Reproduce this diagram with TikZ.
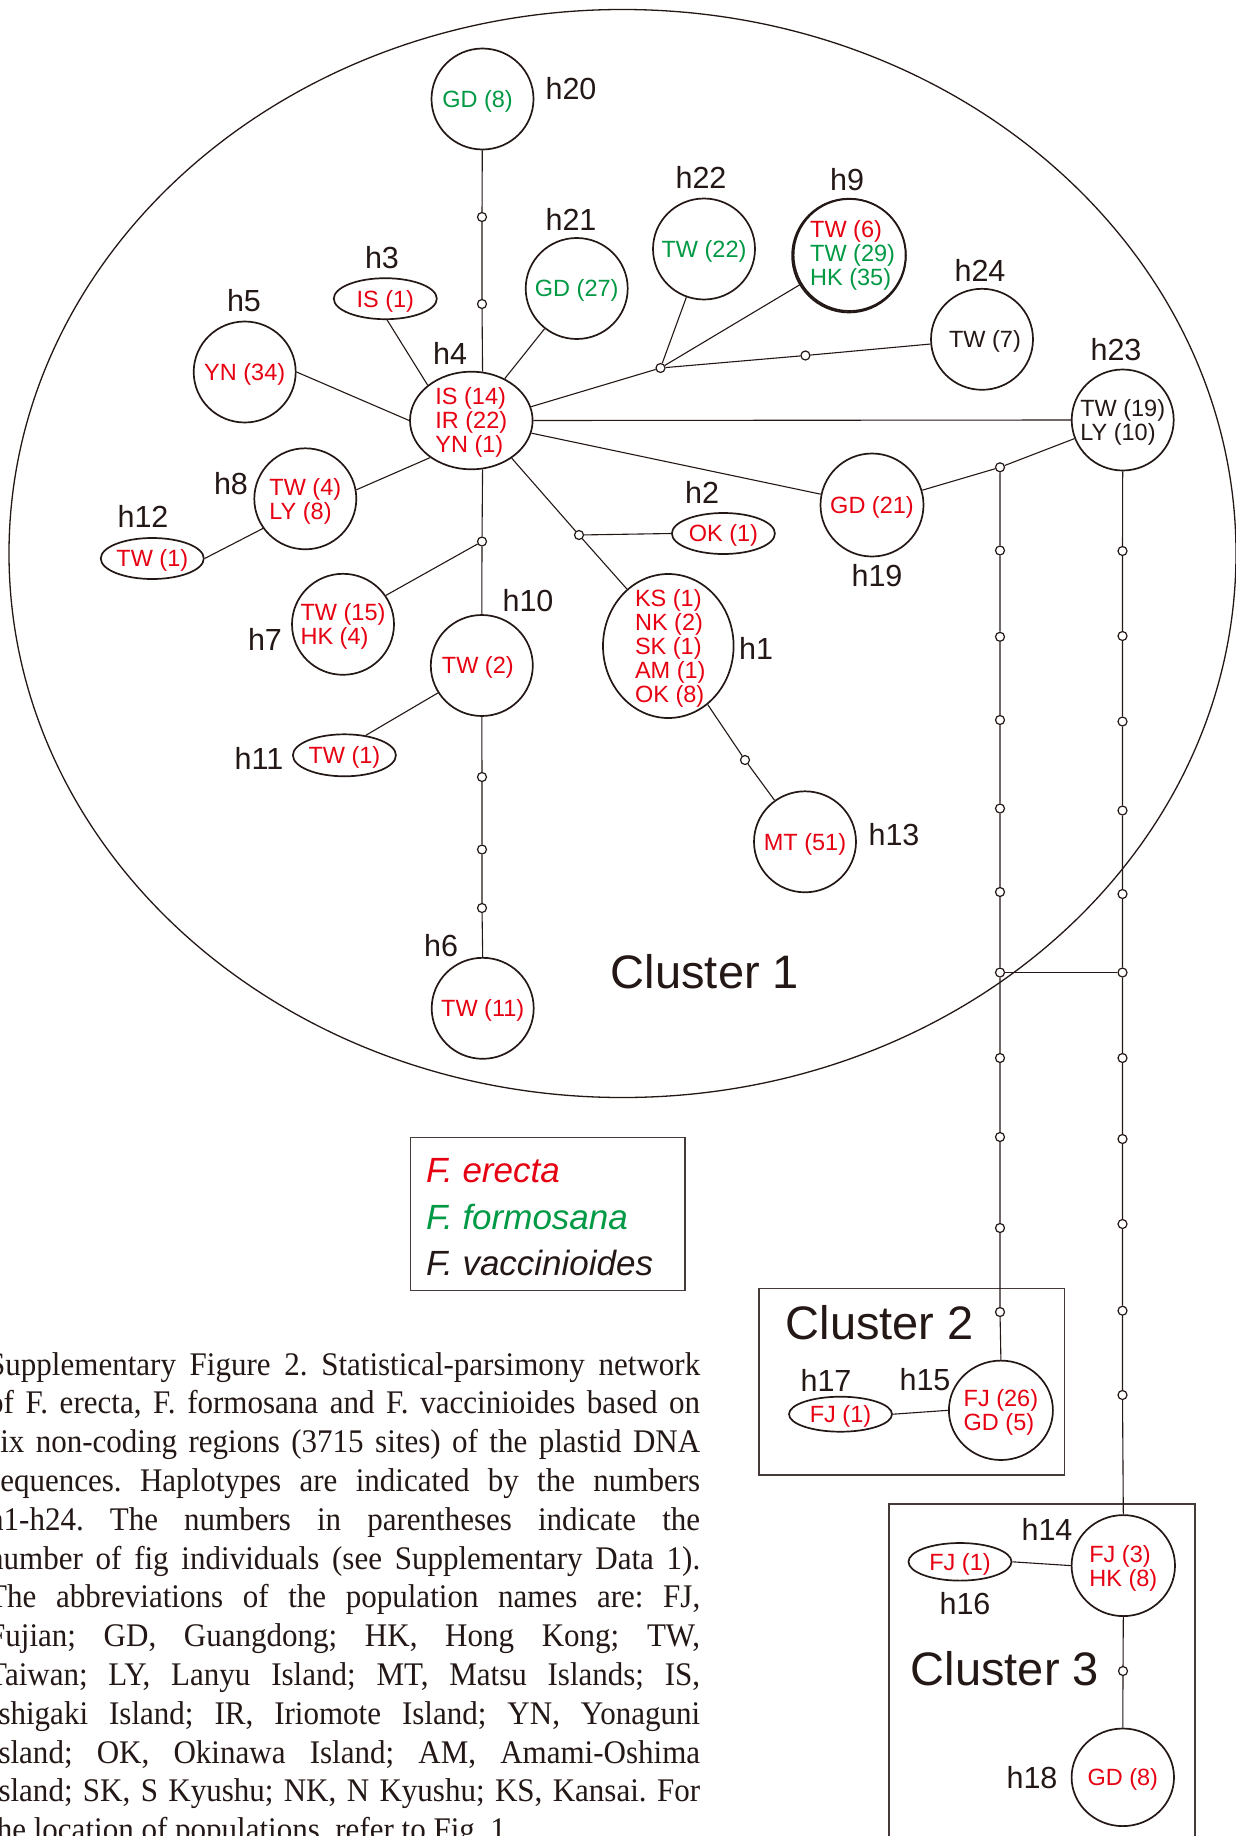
\documentclass[tikz,border=0pt]{standalone}
\usepackage{fontspec}
\setmainfont{Liberation Serif}
\newfontfamily\arialf{Liberation Sans}
\newfontfamily\capf[FakeStretch=0.94]{Liberation Serif}
\usetikzlibrary{shapes.geometric}
\definecolor{ink}{HTML}{231815}
\definecolor{fr}{HTML}{E60012}
\definecolor{fg}{HTML}{009944}
\newcommand{\cRed}{\color{fr}}
\newcommand{\cGrn}{\color{fg}}
\newcommand{\cBlk}{\color{ink}}
\begin{document}
\begin{tikzpicture}[x=1pt,y=-1pt,
  hap/.style={ellipse, draw=ink, line width=1.7pt, fill=white, inner sep=0pt, minimum width=102pt, minimum height=101pt},
  flat/.style={hap, minimum width=103pt, minimum height=41pt},
  txt/.style={font=\arialf\fontsize{23.5}{24}\selectfont, align=left, inner sep=0pt, yshift=-2.3pt},
  lab/.style={font=\arialf\fontsize{30.5}{31}\selectfont, text=ink, inner sep=0pt},
  clus/.style={font=\arialf\fontsize{47}{47}\selectfont, text=ink, inner sep=0pt},
  legt/.style={font=\arialf\itshape\fontsize{35}{35}\selectfont, inner sep=0pt, anchor=base west},
  mut/.style={circle, draw=ink, fill=white, line width=1.2pt, minimum size=9pt, inner sep=0pt},
  link/.style={draw=ink, line width=1.1pt},
  frame/.style={draw=ink!85, line width=1.5pt}]
\useasboundingbox (0,0) rectangle (1236,1836);
\fill[white] (0,0) rectangle (1236,1836);
\clip (0,0) rectangle (1236,1836);

% cluster 1 outline
\draw[ink, line width=1.3pt] (622.5,553.5) ellipse [x radius=613.5, y radius=544];

% boxes
\node[frame, minimum width=305.6pt, minimum height=186.3pt, inner sep=0pt] (box2) at (911.6,1381.85) {};
\node[frame, minimum width=306pt, minimum height=360pt, inner sep=0pt, anchor=north west] (box3) at (888.3,1503.4) {};
\node[frame, minimum width=274.3pt, minimum height=153.4pt, inner sep=0pt] (leg) at (547.85,1214) {};

% haplotype shapes
\node[hap] (h20) at (482.5,99) {};
\node[flat] (h3) at (385.3,298.7) {};
\node[hap] (h21) at (576.7,288.5) {};
\node[hap] (h22) at (704,249) {};
\draw[ink, line width=1.9pt] (849.0,255.6) circle [radius=56.8];
\node[hap, minimum width=112pt, minimum height=112pt] (h9) at (849.6,255) {};
\node[hap] (h24) at (982,339.3) {};
\node[hap] (h23) at (1122.7,420) {};
\node[hap] (h5) at (244.7,372) {};
\node[hap, minimum width=122.6pt, minimum height=97.6pt] (h4) at (471.3,420.5) {};
\node[hap] (h8) at (305.3,498.8) {};
\node[flat] (h12) at (152.3,558.5) {};
\node[hap] (h7) at (343,624.3) {};
\node[hap] (h10) at (481.8,665.5) {};
\node[flat, minimum height=42pt] (h11) at (344.4,755.3) {};
\node[hap] (h6) at (482.7,1008.3) {};
\node[flat] (h2) at (723.4,533.5) {};
\node[hap, minimum width=130.6pt, minimum height=144pt] (h1) at (668.3,646) {};
\node[hap] (h13) at (805,841.8) {};
\node[hap, minimum width=103pt, minimum height=103pt] (h19) at (872,505) {};
\node[hap, minimum width=104pt, minimum height=99.4pt] (h15) at (1000.9,1410.3) {};
\node[flat, minimum height=35pt] (h17) at (840.5,1414.2) {};
\node[hap, minimum width=103.4pt, minimum height=101pt] (h14) at (1123.3,1565.6) {};
\node[flat, minimum height=37.6pt] (h16) at (960,1561.8) {};
\node[hap, minimum width=102.4pt, minimum height=97.6pt] (h18) at (1122.8,1777.3) {};

% mutation dots
\node[mut] (a1) at (482,217) {};
\node[mut] (a2) at (482,304) {};
\node[mut] (b1) at (482,541.5) {};
\node[mut] (c1) at (482,777) {};
\node[mut] (c2) at (482,849.5) {};
\node[mut] (c3) at (482,908) {};
\node[mut] (e1) at (579,535) {};
\node[mut] (f1) at (745,760) {};
\node[mut] (j1) at (660.5,368) {};
\node[mut] (j2) at (805.4,355.5) {};
\node[mut] (k0) at (1000,467.3) {};
\foreach \yy [count=\i] in {550.5,636.8,720,808.5,892,972.5,1058,1137,1228,1312}
  \node[mut] (L\i) at (1000,\yy) {};
\foreach \yy [count=\i] in {551,636,721.5,810.5,894,972.5,1058,1139,1224,1310.7,1395}
  \node[mut] (R\i) at (1122.5,\yy) {};
\node[mut] (m1) at (1123,1671) {};

% connectors
\draw[link] (h20) -- (a1) -- (a2) -- (h4.77.5);
\draw[link] (h4.141) -- (h3.275);
\draw[link] (h4) -- (h21);
\draw[link] (h4.13.5) -- (j1);
\draw[link] (j1) -- (h22);
\draw[link] (j1) -- (h9);
\draw[link] (j1) -- (j2) -- (h24);
\draw[link] (h4.east) -- (h23.west);
\draw[link] (h4) -- (h19);
\draw[link] (h19) -- (k0) -- (h23);
\draw[link] (h5.east) -- (h4.west);
\draw[link] (h8.10) -- (h4.222);
\draw[link] (h8.215.6) -- (h12.east);
\draw[link] (h4.-77.5) -- (b1) -- (h10.north);
\draw[link] (b1) -- (h7.34);
\draw[link] (h10.212) -- (h11.43);
\draw[link] (h10.south) -- (c1) -- (c2) -- (c3) -- (h6.north);
\draw[link] (h4.-43) -- (e1) -- (h1.126.5);
\draw[link] (e1) -- (h2.west);
\draw[link] (h1) -- (f1) -- (h13);
\draw[link] (k0) -- (L1) -- (L2) -- (L3) -- (L4) -- (L5) -- (L6) -- (L7) -- (L8) -- (L9) -- (L10) -- (h15.north);
\draw[link] (h23.south) -- (R1) -- (R2) -- (R3) -- (R4) -- (R5) -- (R6) -- (R7) -- (R8) -- (R9) -- (R10) -- (R11) -- (h14.north);
\draw[link] (L6) -- (R6);
\draw[link] (h14.south) -- (m1) -- (h18.north);
\draw[link] (h16.east) -- (h14.west);
\draw[link] (h17.east) -- (h15.west);

% haplotype contents
\node[txt, xshift=-5pt] (t20) at (h20) {\cGrn GD (8)};
\node[txt] (t3) at (h3) {\cRed IS (1)};
\node[txt] (t21) at (h21) {\cGrn GD (27)};
\node[txt] (t22) at (h22) {\cGrn TW (22)};
\node[txt, xshift=3pt, yshift=1.5pt] (t9) at (h9) {\cRed TW (6)\\\cGrn TW (29)\\\cGrn HK (35)};
\node[txt, xshift=3pt] (t24) at (h24) {\cBlk TW (7)};
\node[txt] (t23) at (h23) {\cBlk TW (19)\\\cBlk LY (10)};
\node[txt] (t5) at (h5) {\cRed YN (34)};
\node[txt] (t4) at (h4) {\cRed IS (14)\\\cRed IR (22)\\\cRed YN (1)};
\node[txt] (t8) at (h8) {\cRed TW (4)\\\cRed LY (8)};
\node[txt] (t12) at (h12) {\cRed TW (1)};
\node[txt] (t7) at (h7) {\cRed TW (15)\\\cRed HK (4)};
\node[txt, xshift=-4pt] (t10) at (h10) {\cRed TW (2)};
\node[txt] (t11) at (h11) {\cRed TW (1)};
\node[txt] (t6) at (h6) {\cRed TW (11)};
\node[txt] (t2) at (h2) {\cRed OK (1)};
\node[txt, xshift=2pt] (t1) at (h1) {\cRed KS (1)\\\cRed NK (2)\\\cRed SK (1)\\\cRed AM (1)\\\cRed OK (8)};
\node[txt] (t13) at (h13) {\cRed MT (51)};
\node[txt] (t19) at (h19) {\cRed GD (21)};
\node[txt] (t15) at (h15) {\cRed FJ (26)\\\cRed GD (5)};
\node[txt] (t17) at (h17) {\cRed FJ (1)};
\node[txt] (t14) at (h14) {\cRed FJ (3)\\\cRed HK (8)};
\node[txt] (t16) at (h16) {\cRed FJ (1)};
\node[txt] (t18) at (h18) {\cRed GD (8)};

% haplotype labels
\node[lab] (l20) at (571,89) {h20};
\node[lab] (l3) at (382,258) {h3};
\node[lab] (l21) at (571,219) {h21};
\node[lab] (l22) at (701,177) {h22};
\node[lab] (l9) at (847,180) {h9};
\node[lab] (l24) at (980,270) {h24};
\node[lab] (l23) at (1116,350) {h23};
\node[lab] (l5) at (244,301) {h5};
\node[lab] (l4) at (450,353) {h4};
\node[lab] (l8) at (231,484) {h8};
\node[lab] (l12) at (143,516) {h12};
\node[lab] (l7) at (265,639) {h7};
\node[lab] (l10) at (528,601) {h10};
\node[lab] (l11) at (259,758) {h11};
\node[lab] (l2) at (702,492) {h2};
\node[lab] (l1) at (756,648) {h1};
\node[lab] (l19) at (877,576) {h19};
\node[lab] (l13) at (894,835) {h13};
\node[lab] (l6) at (441,946) {h6};
\node[lab] (l17) at (826,1380) {h17};
\node[lab] (l15) at (925,1380) {h15};
\node[lab] (l14) at (1047,1529) {h14};
\node[lab] (l16) at (965,1604) {h16};
\node[lab] (l18) at (1032,1778) {h18};

% cluster titles
\node[clus, anchor=base] (cl1) at (705,988.3) {Cluster 1};
\node[clus, anchor=base west] (cl2) at (785.5,1339.3) {Cluster 2};
\node[clus, anchor=base west] (cl3) at (910.7,1685.3) {Cluster 3};

% legend
\node[legt, text=fr] (lg1) at (426,1182.7) {F. erecta};
\node[legt, text=fg] (lg2) at (426,1229.3) {F. formosana};
\node[legt, text=ink] (lg3) at (426,1275) {F. vaccinioides};

% caption
\node[anchor=base west, inner sep=0pt, text width=712pt, align=justify, text=ink,
      font=\capf\fontsize{33}{38.8}\selectfont] (cap) at (-12,1375)
{\frenchspacing\hyphenpenalty=10000 \exhyphenpenalty=10000 \tolerance=10000
Supplementary Figure 2. Statistical-parsimony network\linebreak
of F. erecta, F. formosana and F. vaccinioides based on\linebreak
six non-coding regions (3715 sites) of the plastid DNA\linebreak
sequences. Haplotypes are indicated by the numbers\linebreak
h1-h24. The numbers in parentheses indicate the\linebreak
number of fig individuals (see Supplementary Data 1).\linebreak
The abbreviations of the population names are: FJ,\linebreak
Fujian; GD, Guangdong; HK, Hong Kong; TW,\linebreak
Taiwan; LY, Lanyu Island; MT, Matsu Islands; IS,\linebreak
Ishigaki Island; IR, Iriomote Island; YN, Yonaguni\linebreak
Island; OK, Okinawa Island; AM, Amami-Oshima\linebreak
Island; SK, S Kyushu; NK, N Kyushu; KS, Kansai. For\linebreak
the location of populations, refer to Fig. 1.};
\end{tikzpicture}
\end{document}
